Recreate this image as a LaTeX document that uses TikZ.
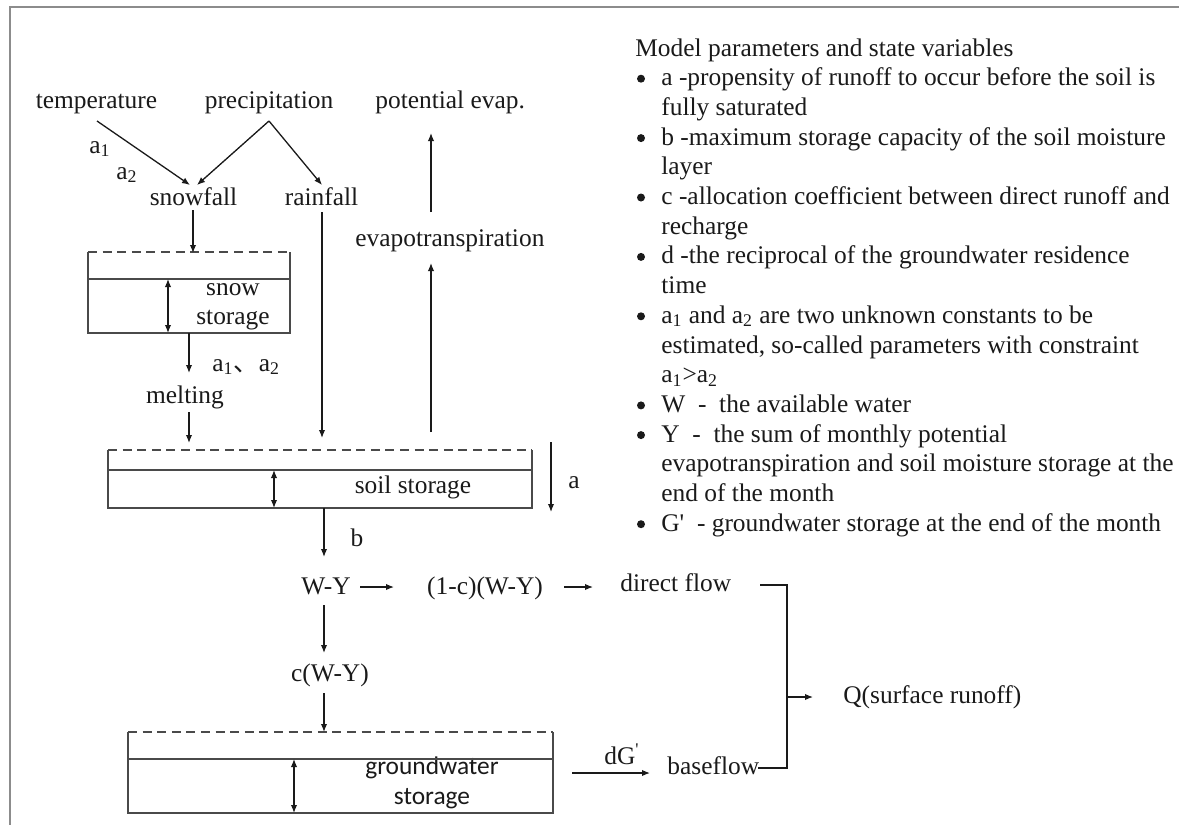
\documentclass[tikz,border=0pt]{standalone}
\usepackage{fontspec}
\setmainfont{Liberation Serif}
\newfontfamily\rawserif{Liberation Serif}
\newfontfamily\calib{Carlito}
\newfontfamily\cjk{Noto Sans CJK SC}
\usetikzlibrary{arrows.meta}
\definecolor{ink}{HTML}{1A1A1A}
\definecolor{boxc}{HTML}{4A4A4A}
\definecolor{framec}{HTML}{8C8C8C}
\newcommand{\fs}{\fontsize{12.7}{14.8}\selectfont}
\newcommand{\sq}{{\rawserif '}}
\tikzset{
  txt/.style={inner sep=0pt, font=\fs, text=ink, anchor=base},
  txtw/.style={txt, anchor=base west},
  bul/.style={circle, fill=ink, inner sep=0pt, minimum size=4pt},
  arr/.style={draw=ink, line width=0.65pt, -{Latex[length=4pt,width=3.2pt]}},
  dbl/.style={draw=ink, line width=0.65pt, {Latex[length=4pt,width=3.2pt]}-{Latex[length=4pt,width=3.2pt]}},
  boxline/.style={draw=boxc, line width=1pt},
  dashline/.style={draw=boxc, line width=1pt, dash pattern=on 4.5pt off 2.8pt},
  plain/.style={draw=ink, line width=0.65pt},
}
\begin{document}
\begin{tikzpicture}[x=0.5pt,y=-0.5pt]
\useasboundingbox (0,0) rectangle (1179,825);
\fill[white] (0,0) rectangle (1179,825);
% frame (top and left only)
\draw[framec, line width=1pt] (10,825) -- (10,7) -- (1179,7);

% ---------- text nodes of the flow diagram ----------
\node[txt] (temp) at (96.5,108) {temperature};
\node[txt] (prec) at (269,108) {precipitation};
\node[txtw] (pot) at (375,108) {potential evap.};
\node[txt] (a1) at (100,153) {a\textsubscript{1}};
\node[txt] (a2) at (127,179) {a\textsubscript{2}};
\node[txt] (snowfall) at (193.5,205) {snowfall};
\node[txt] (rainfall) at (321.5,205) {rainfall};
\node[txtw] (evapo) at (355,246) {evapotranspiration};
\node[txt] (snow) at (233,295) {snow};
\node[txt] (snowst) at (233,324) {storage};
\node[txtw] (a12) at (212,371) {a\textsubscript{1}{\cjk 、}a\textsubscript{2}};
\node[txt] (melting) at (185,403) {melting};
\node[txt] (soil) at (413,493) {soil storage};
\node[txt] (alab) at (574,488) {a};
\node[txt] (blab) at (357,546) {b};
\node[txt] (wy) at (326,594) {W-Y};
\node[txt] (cwy1) at (485,594) {(1-c)(W-Y)};
\node[txtw] (direct) at (620,591) {direct flow};
\node[txt] (cwy) at (330,681) {c(W-Y)};
\node[txt, font=\fs\calib] (gw) at (432,774) {groundwater};
\node[txt, font=\fs\calib] (gwst) at (432,804) {storage};
\node[txt] (dg) at (622,764) {dG\textsuperscript{\sq}};
\node[txtw] (base) at (667,774) {baseflow};
\node[txtw] (q) at (843,703) {Q(surface runoff)};

% ---------- storage boxes ----------
% snow storage
\coordinate (sbTL) at (88,252); \coordinate (sbTR) at (290,252);
\coordinate (sbBL) at (88,333); \coordinate (sbBR) at (290,333);
\draw[dashline] (sbTL) -- (sbTR);
\draw[boxline] (sbTL) -- (sbBL) -- (sbBR) -- (sbTR);
\draw[boxline] (88,279) -- (290,279);
\coordinate (sdA) at (168,279); \coordinate (sdB) at (168,333);
\draw[dbl] (sdA) -- (sdB);
% soil storage
\coordinate (soTL) at (108,450); \coordinate (soTR) at (532,450);
\coordinate (soBL) at (108,508); \coordinate (soBR) at (532,508);
\draw[dashline] (soTL) -- (soTR);
\draw[boxline] (soTL) -- (soBL) -- (soBR) -- (soTR);
\draw[boxline] (108,470) -- (532,470);
\coordinate (sodA) at (274,470); \coordinate (sodB) at (274,508);
\draw[dbl] (sodA) -- (sodB);
% groundwater storage
\coordinate (gwTL) at (128,732); \coordinate (gwTR) at (553,732);
\coordinate (gwBL) at (128,813); \coordinate (gwBR) at (553,813);
\draw[dashline] (gwTL) -- (gwTR);
\draw[boxline] (gwTL) -- (gwBL) -- (gwBR) -- (gwTR);
\draw[boxline] (128,759) -- (553,759);
\coordinate (gwdA) at (294,759); \coordinate (gwdB) at (294,813);
\draw[dbl] (gwdA) -- (gwdB);

% ---------- connectors ----------
\coordinate (tempS) at (97,121);
\coordinate (precS) at (269,121);
\coordinate (snowIn1) at (190,185);
\coordinate (snowIn2) at (197,185);
\coordinate (rainIn) at (322,185);
\draw[arr] (tempS) -- (snowIn1);
\draw[arr] (precS) -- (snowIn2);
\draw[arr] (precS) -- (rainIn);

\coordinate (sfS) at (193,210); \coordinate (sbIn) at (193,253);
\draw[arr] (sfS) -- (sbIn);
\coordinate (sbOut) at (189,333); \coordinate (meltN) at (189,373);
\draw[arr] (sbOut) -- (meltN);
\coordinate (meltS) at (189,412); \coordinate (soIn1) at (189,443);
\draw[arr] (meltS) -- (soIn1);
\coordinate (rfS) at (322,212); \coordinate (soIn2) at (322,438);
\draw[arr] (rfS) -- (soIn2);
\coordinate (soOutE) at (431,432); \coordinate (evS) at (431,263);
\draw[arr] (soOutE) -- (evS);
\coordinate (evN) at (431,212); \coordinate (potS) at (431,133);
\draw[arr] (evN) -- (potS);
\coordinate (aT) at (551,442); \coordinate (aB) at (551,512);
\draw[arr] (aT) -- (aB);
\coordinate (soOut) at (324,508); \coordinate (wyN) at (324,557);
\draw[arr] (soOut) -- (wyN);
\coordinate (wyE) at (360,587); \coordinate (cwy1W) at (394,587);
\draw[arr] (wyE) -- (cwy1W);
\coordinate (cwy1E) at (564,587); \coordinate (dirW) at (593,587);
\draw[arr] (cwy1E) -- (dirW);
\coordinate (wyS) at (324,605); \coordinate (cwyN) at (324,653);
\draw[arr] (wyS) -- (cwyN);
\coordinate (cwyS) at (324,693); \coordinate (gwIn) at (324,732);
\draw[arr] (cwyS) -- (gwIn);
\coordinate (gwOut) at (572,773); \coordinate (baseW) at (650,773);
\draw[arr] (gwOut) -- (baseW);
% bracket to Q
\coordinate (brT0) at (760,585); \coordinate (brT) at (787,585);
\coordinate (brB0) at (758,768); \coordinate (brB) at (787,768);
\coordinate (brM) at (787,697); \coordinate (qW) at (813,697);
\draw[plain] (brT0) -- (brT) -- (brB) -- (brB0);
\draw[arr] (brM) -- (qW);

% ---------- legend ----------
\node[txtw] (lh) at (635,56) {Model parameters and state variables};
\foreach \k/\b/\t in {
 1/1/{a -propensity of runoff to occur before the soil is},
 2/0/{fully saturated},
 3/1/{b -maximum storage capacity of the soil moisture},
 4/0/{layer},
 5/1/{c -allocation coefficient between direct runoff and},
 6/0/{recharge},
 7/1/{d -the reciprocal of the groundwater residence},
 8/0/{time},
 9/1/{a\textsubscript{1} and a\textsubscript{2} are two unknown constants to be},
 10/0/{estimated, so-called parameters with constraint},
 11/0/{a\textsubscript{1}>a\textsubscript{2}},
 12/1/{W\ \ -\ \ the available water},
 13/1/{Y\ \ -\ \ the sum of monthly potential},
 14/0/{evapotranspiration and soil moisture storage at the},
 15/0/{end of the month},
 16/1/{G\sq\ \ - groundwater storage at the end of the month}}{
  \node[txtw] (l\k) at (661,56+29.7*\k) {\t};
  \ifnum\b=1 \node[bul] (bu\k) at (641,49+29.7*\k) {}; \fi
}
\end{tikzpicture}
\end{document}
